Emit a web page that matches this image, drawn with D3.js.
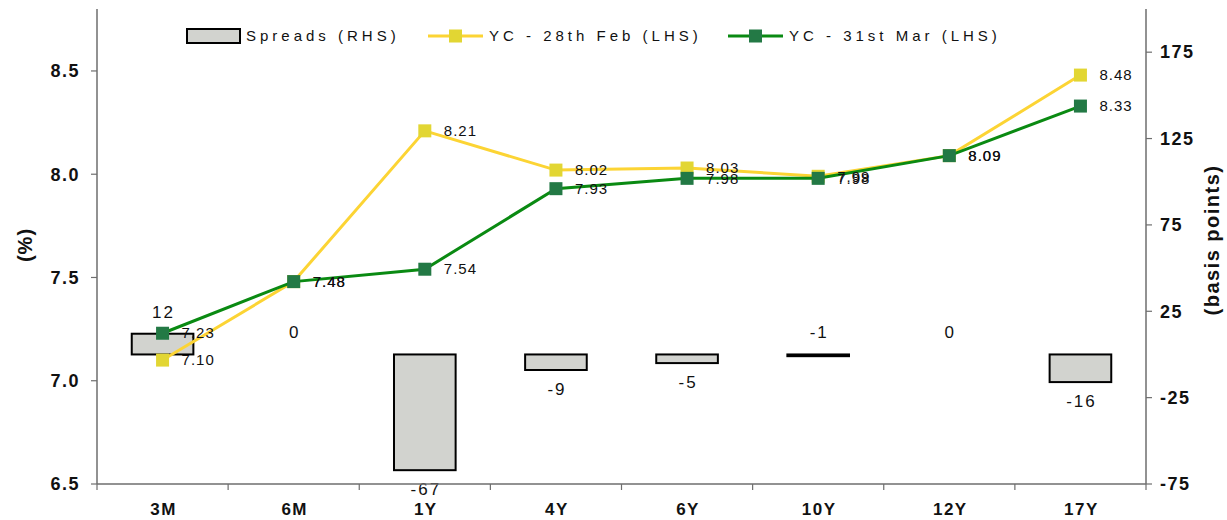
<!DOCTYPE html>
<html>
<head>
<meta charset="utf-8">
<script src="https://cdn.jsdelivr.net/npm/d3@7"></script>
<style>
  html, body { margin: 0; padding: 0; background: #fff; }
  svg { display: block; font-family: Arial, "Liberation Sans", sans-serif; }
</style>
</head>
<body>
<svg id="chart" width="1227" height="520"></svg>
<script>
// Tenors along the curve
const tenors = ["3M", "6M", "1Y", "4Y", "6Y", "10Y", "12Y", "17Y"];
// Yield curve levels (%)
const ycFeb = [7.10, 7.48, 8.21, 8.02, 8.03, 7.99, 8.09, 8.48];
const ycMar = [7.23, 7.48, 7.54, 7.93, 7.98, 7.98, 8.09, 8.33];
// Change in basis points
const spreads = [12, 0, -67, -9, -5, -1, 0, -16];
// Axis ticks
const leftTicks = [6.5, 7.0, 7.5, 8.0, 8.5];
const rightTicks = [-75, -25, 25, 75, 125, 175];

const svg = d3.select("#chart");
const plotLeft = 97, plotRight = 1146, plotTop = 9, plotBottom = 484;

const x = d3.scaleBand().domain(tenors).range([plotLeft, plotRight]).paddingInner(0).paddingOuter(0);
const yL = d3.scaleLinear().domain([6.5, 8.8]).range([plotBottom, plotTop]);
const yR = d3.scaleLinear().domain([-75, 200]).range([plotBottom, plotTop]);
const cx = t => x(t) + x.bandwidth() / 2;

const axisColor = "#6e6e6e";

// Spread bars (right axis)
const barW = x.bandwidth() * 0.47;
svg.append("g").selectAll("rect")
  .data(tenors.map((t, i) => ({ t, v: spreads[i] })).filter(d => d.v !== 0))
  .join("rect")
  .attr("x", d => cx(d.t) - barW / 2)
  .attr("y", d => Math.min(yR(d.v), yR(0)))
  .attr("width", barW)
  .attr("height", d => Math.abs(yR(d.v) - yR(0)))
  .attr("fill", "#d2d3cf")
  .attr("stroke", "#000")
  .attr("stroke-width", 2);

// Spread value labels
svg.append("g").selectAll("text")
  .data(tenors.map((t, i) => ({ t, v: spreads[i] })))
  .join("text")
  .attr("x", d => cx(d.t) + 1)
  .attr("y", d => d.v >= 0 || d.v === -1 ? yR(Math.max(d.v, 0)) - 22 : yR(d.v) + 19)
  .attr("dy", "0.35em")
  .attr("text-anchor", "middle")
  .attr("font-size", 17)
  .attr("letter-spacing", 2)
  .attr("fill", "#111")
  .text(d => d.v);

// Axes
const gx = svg.append("g").attr("transform", `translate(0,${plotBottom})`);
gx.append("line").attr("x1", plotLeft).attr("x2", plotRight).attr("stroke", axisColor).attr("stroke-width", 1.5);
gx.selectAll("line.tk").data(d3.range(tenors.length + 1)).join("line")
  .attr("class", "tk")
  .attr("x1", i => plotLeft + i * x.bandwidth()).attr("x2", i => plotLeft + i * x.bandwidth())
  .attr("y1", 0).attr("y2", 6).attr("stroke", axisColor).attr("stroke-width", 1.2);
gx.selectAll("text").data(tenors).join("text")
  .attr("x", d => cx(d) + 1).attr("y", 31)
  .attr("text-anchor", "middle")
  .attr("font-size", 17).attr("font-weight", "bold").attr("letter-spacing", 1.5)
  .attr("fill", "#111")
  .text(d => d);

const gl = svg.append("g").attr("transform", `translate(${plotLeft},0)`);
gl.append("line").attr("y1", plotTop).attr("y2", plotBottom).attr("stroke", axisColor).attr("stroke-width", 1.5);
gl.selectAll("line.tk").data(leftTicks).join("line").attr("class", "tk")
  .attr("x1", -6).attr("x2", 0).attr("y1", yL).attr("y2", yL).attr("stroke", axisColor).attr("stroke-width", 1.2);
gl.selectAll("text").data(leftTicks).join("text")
  .attr("x", -17).attr("y", yL).attr("dy", "0.35em")
  .attr("text-anchor", "end")
  .attr("font-size", 18).attr("font-weight", "bold").attr("letter-spacing", 1.5)
  .attr("fill", "#111")
  .text(d => d3.format(".1f")(d));

const gr = svg.append("g").attr("transform", `translate(${plotRight},0)`);
gr.append("line").attr("y1", plotTop).attr("y2", plotBottom).attr("stroke", axisColor).attr("stroke-width", 1.5);
gr.selectAll("line.tk").data(rightTicks).join("line").attr("class", "tk")
  .attr("x1", 0).attr("x2", 6).attr("y1", yR).attr("y2", yR).attr("stroke", axisColor).attr("stroke-width", 1.2);
gr.selectAll("text").data(rightTicks).join("text")
  .attr("x", 14).attr("y", yR).attr("dy", "0.35em")
  .attr("text-anchor", "start")
  .attr("font-size", 18).attr("font-weight", "bold").attr("letter-spacing", 1.5)
  .attr("fill", "#111")
  .text(d => d);

// Axis titles
svg.append("text")
  .attr("transform", "translate(32,245) rotate(-90)")
  .attr("text-anchor", "middle")
  .attr("font-size", 20).attr("font-weight", "bold").attr("letter-spacing", 1)
  .attr("fill", "#111")
  .text("(%)");
svg.append("text")
  .attr("transform", "translate(1219,240) rotate(-90)")
  .attr("text-anchor", "middle")
  .attr("font-size", 20).attr("font-weight", "bold").attr("letter-spacing", 1.5)
  .attr("fill", "#111")
  .text("(basis points)");

// Yield curve lines
const series = [
  { name: "YC - 28th Feb (LHS)", values: ycFeb, line: "#fcd434", marker: "#e2d633" },
  { name: "YC - 31st Mar (LHS)", values: ycMar, line: "#0a8a12", marker: "#237945" }
];
const lineGen = d3.line().x((d, i) => cx(tenors[i])).y(d => yL(d));
const ms = 13;

series.forEach(s => {
  const g = svg.append("g");
  g.append("path").attr("d", lineGen(s.values))
    .attr("fill", "none").attr("stroke", s.line).attr("stroke-width", 3);
  g.selectAll("rect").data(s.values).join("rect")
    .attr("x", (d, i) => cx(tenors[i]) - ms / 2)
    .attr("y", d => yL(d) - ms / 2)
    .attr("width", ms).attr("height", ms)
    .attr("fill", s.marker);
});

// Yield value labels
series.forEach(s => {
  svg.append("g").selectAll("text").data(s.values).join("text")
    .attr("x", (d, i) => cx(tenors[i]) + 19)
    .attr("y", d => yL(d))
    .attr("dy", "0.35em")
    .attr("font-size", 15).attr("letter-spacing", 1)
    .attr("fill", "#111")
    .text(d => d3.format(".2f")(d));
});

// Legend
const lg = svg.append("g").attr("font-size", 15).attr("letter-spacing", 4).attr("fill", "#111");
lg.append("rect").attr("x", 187).attr("y", 29).attr("width", 53).attr("height", 14)
  .attr("fill", "#d2d3cf").attr("stroke", "#000").attr("stroke-width", 2);
lg.append("text").attr("x", 246).attr("y", 36).attr("dy", "0.35em").text("Spreads (RHS)");
const legPos = [428, 728];
series.forEach((s, i) => {
  const x0 = legPos[i];
  lg.append("line").attr("x1", x0).attr("x2", x0 + 55).attr("y1", 36).attr("y2", 36)
    .attr("stroke", s.line).attr("stroke-width", 3);
  lg.append("rect").attr("x", x0 + 27.5 - 6.5).attr("y", 36 - 6.5).attr("width", 13).attr("height", 13)
    .attr("fill", s.marker);
  lg.append("text").attr("x", x0 + 61).attr("y", 36).attr("dy", "0.35em").text(s.name);
});
</script>
</body>
</html>
